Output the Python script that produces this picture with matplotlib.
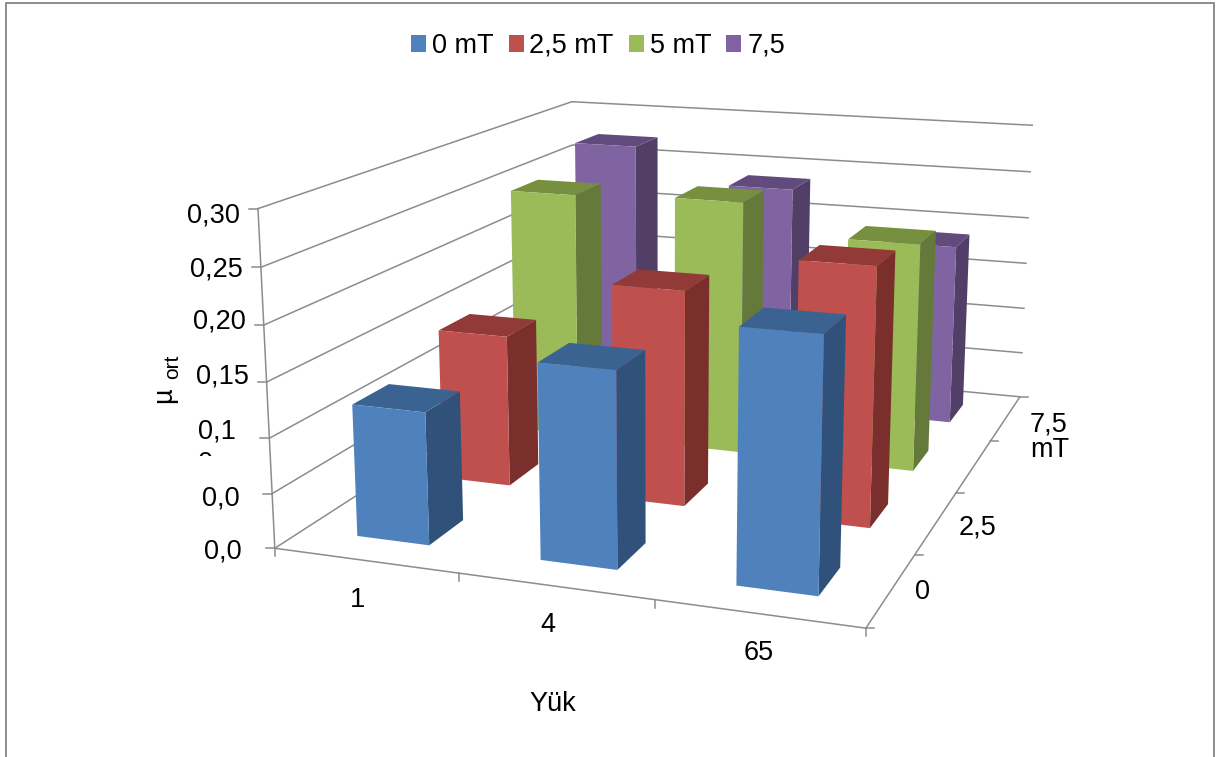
import numpy as np
import matplotlib
matplotlib.use('Agg')
import matplotlib.pyplot as plt
from matplotlib.lines import Line2D
from matplotlib.patches import Patch
from matplotlib.transforms import Bbox

plt.rcParams['font.family'] = ['Liberation Sans', 'DejaVu Sans']

W, H = 1216, 757
GRAY = '#8c8c8c'
FS = 19.5

# %% Data
loads = ['1', '4', '65']
series = ['0 mT', '2,5 mT', '5 mT', '7,5']
series_ticks = ['0', '2,5', '7,5\nmT']
z_ticks = [0.0, 0.05, 0.10, 0.15, 0.20, 0.25, 0.30]
z_labels = ['0,0', '0,0', '0,1', '0,15', '0,20', '0,25', '0,30']

mu_0 = [0.121, 0.175, 0.221]
mu_25 = [0.146, 0.204, 0.240]
mu_5 = [0.250, 0.254, 0.225]
mu_75 = [0.273, 0.237, 0.188]
mu_all = [mu_0, mu_25, mu_5, mu_75]

front_cols = ['#4f81bd', '#c0504d', '#9bbb59', '#8064a2']
top_cols = ['#3a6391', '#913a38', '#76903f', '#614b7c']
side_cols = ['#30527a', '#7b2f2d', '#64793a', '#523f68']

# %% Camera: floor and wall corners (load, series, mu) and where they sit on the page
world_pts = [(0, 0, 0), (0, 0, .3), (3, 0, 0), (3, 4, 0), (3, 4, .3), (0, 4, .3),
             (1, 0, 0), (2, 0, 0), (3, 1, 0), (3, 2, 0), (3, 3, 0),
             (0, 0, .15), (3, 4, .15)]
page_pts = [(275, 547), (258, 209), (864, 627), (1018, 397), (1032, 125), (572, 101),
            (458, 574), (654, 601), (917, 553), (957, 493), (992, 442),
            (267, 383), (1026, 264)]


def fit_camera(world, page):
    rows = []
    for (x, y, z), (u, v) in zip(world, page):
        v = H - v
        p = [x, y, z * 10, 1]
        rows.append(p + [0, 0, 0, 0] + [-u * c for c in p])
        rows.append([0, 0, 0, 0] + p + [-v * c for c in p])
    cam = np.linalg.svd(np.array(rows, float))[2][-1].reshape(3, 4)
    cam[:, 2] *= 10
    return cam / cam[2, 3]


cam = fit_camera(world_pts, page_pts)
M = np.vstack([cam[0], cam[1], [0.1, 1, 0.1, 0.01], cam[2]])


def to_page(x, y, z):
    u, v, w = cam @ np.array([x, y, z, 1.0])
    return u / w, v / w


fig = plt.figure(figsize=(W / 100, H / 100), dpi=100)
fig.patch.set_facecolor('white')

# Axes3D keeps a square box, so make it as wide as the figure and use pixels as 2D units
ax = fig.add_axes([0, -(W - H) / 2 / H, 1, W / H], projection='3d')
ax.set_axis_off()
ax.set_proj_type('ortho')  # lines are not clipped to the unit cube in this mode
ax.computed_zorder = False
ax.get_proj = lambda: M
ax.viewLim.intervalx = (0, W)
ax.viewLim.intervaly = (-(W - H) / 2, H + (W - H) / 2)

# %% Walls and floor
for z in z_ticks:
    ax.plot([0, 0, 3], [0, 4, 4], [z, z, z], color=GRAY, lw=1.1, zorder=1)
ax.plot([0, 3, 3], [0, 0, 4], [0, 0, 0], color=GRAY, lw=1.1, zorder=1)
ax.plot([0, 0], [0, 0], [0, 0.3], color=GRAY, lw=1.1, zorder=1)

# %% Bars, back row first
width = 0.4
margin = 0.3
for j in range(len(series) - 1, -1, -1):
    for i in range(len(loads)):
        faces = ['none', top_cols[j], front_cols[j], 'none', 'none', side_cols[j]]
        ax.bar3d(i + margin, j + margin, 0, width, width, mu_all[j][i],
                 color=faces, shade=False, linewidth=0, zorder=10 + (3 - j) * 3 + i)


def page_line(xs, ys, lw=1.1):
    fig.add_artist(Line2D(np.array(xs) / W, 1 - np.array(ys) / H, color=GRAY, lw=lw))


def page_text(x, y, s, **kw):
    kw.setdefault('fontsize', FS)
    kw.setdefault('ha', 'center')
    kw.setdefault('va', 'center')
    return fig.text(x / W, 1 - y / H, s, color='black', **kw)


# %% Tick marks
for z in z_ticks:
    u, v = to_page(0, 0, z)
    page_line([u - 9, u], [H - v, H - v])
for i in range(len(loads) + 1):
    u, v = to_page(i, 0, 0)
    page_line([u, u], [H - v, H - v + 8])
for j in range(len(series) + 1):
    u, v = to_page(3, j, 0)
    page_line([u, u + 8], [H - v, H - v])

# %% Tick labels
label_x = [204, 202, 198, 196, 193, 190, 187]
label_y = [552, 499, 431, 376, 322, 269, 215]
for lab, lx, ly in zip(z_labels, label_x, label_y):
    page_text(lx, ly, lab, ha='left')

# the last digit of 0,10 wraps onto a second line and is cut off
wrapped = page_text(198, 464, '0', ha='left', clip_on=True)
wrapped.set_clip_box(Bbox([[190, H - 456], [225, H - 450]]))

for lab, lx, ly in zip(loads, [358, 548, 759], [600, 625, 653]):
    page_text(lx, ly, lab)
for lab, lx, ly in zip(series_ticks, [922, 978, 1030], [592, 528, 437]):
    page_text(lx, ly, lab, ha='left' if 'mT' in lab else 'center', linespacing=0.98)

# %% Axis titles
page_text(553, 704, 'Yük')
page_text(164, 395, 'µ', rotation=90)
page_text(173, 367, 'ort', rotation=90, fontsize=15)

# %% Legend
handles = [Patch(facecolor=c, edgecolor='none') for c in front_cols]
fig.legend(handles, series, loc='center', bbox_to_anchor=(598 / W, 1 - 46 / H), ncols=4,
           frameon=False, fontsize=FS, handlelength=0.555, handleheight=0.555,
           handletextpad=0.22, columnspacing=0.55, borderpad=0, borderaxespad=0)

# %% Chart border, open at the bottom
page_line([6, 6, 1214, 1214], [H, 3, 3, H], lw=1.4)

fig.savefig('out.png', dpi=100, facecolor='white')
